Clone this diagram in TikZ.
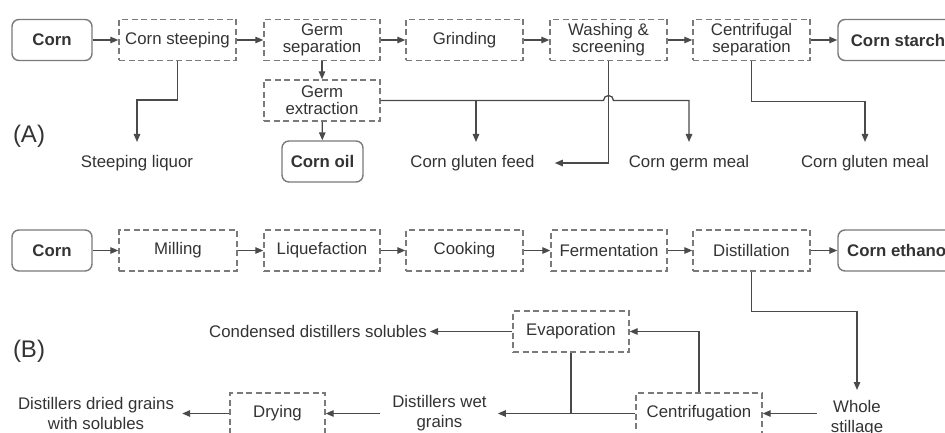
\documentclass[tikz,border=0pt]{standalone}
\usepackage{fontspec}
\setmainfont{Liberation Sans}
\usetikzlibrary{arrows.meta,calc}
\definecolor{txt}{HTML}{333333}
\definecolor{ln}{HTML}{4A4A4A}
\definecolor{bx}{HTML}{7A7A7A}
\begin{document}
\begin{tikzpicture}[x=1pt,y=-1pt,
  text=txt,
  proc/.style={draw=bx, line width=1.4pt, dash pattern=on 6pt off 3.5pt, minimum height=41pt, inner sep=0pt, align=center, font=\fontsize{16.8}{17}\selectfont},
  endb/.style={draw=bx, line width=1.4pt, rounded corners=7pt, minimum height=41pt, inner sep=0pt, font=\fontsize{16.8}{17}\selectfont\bfseries},
  lbl/.style={inner xsep=0pt, inner ysep=13pt, align=center, font=\fontsize{16.8}{20}\selectfont},
  lbltwo/.style={inner sep=0pt, align=center, font=\fontsize{16.8}{20}\selectfont},
  panel/.style={inner sep=0pt, font=\fontsize{24}{24}\selectfont},
  arr/.style={draw=ln, line width=1.3pt, -{Triangle[length=8pt,width=6.5pt]}},
  con/.style={draw=ln, line width=1.3pt}]
\useasboundingbox (0,0) rectangle (945,433);

% ---------- (A) ----------
\node[panel] (labA) at (29,136) {(A)};
\node[endb, minimum width=80pt] (cornA) at (52,40) {Corn};
\node[proc, minimum width=117pt] (steep) at (177.5,40) {Corn steeping};
\node[proc, minimum width=116pt] (gsep) at (322,40) {Germ\\separation};
\node[proc, minimum width=117pt] (grind) at (464.5,40) {Grinding};
\node[proc, minimum width=117pt] (wash) at (608.5,40) {Washing \&\\screening};
\node[proc, minimum width=117pt] (csep) at (751.5,40) {Centrifugal\\separation};
\node[endb, minimum width=120pt] (starch) at (898,40) {Corn starch};
\node[proc, minimum width=116pt] (gext) at (322,100.5) {Germ\\extraction};
\node[endb, minimum width=81pt] (oil) at (322.5,161.5) {Corn oil};

\node[lbl, anchor=north] (liquor) at (137,142) {Steeping liquor};
\node[lbl, anchor=north] (feed) at (472.5,142) {Corn gluten feed};
\node[lbl, anchor=north] (gmeal) at (689,142) {Corn germ meal};
\node[lbl, anchor=north] (glmeal) at (865,142) {Corn gluten meal};

\coordinate (kl) at (137,100);
\coordinate (kf) at (476,100.5);

\draw[arr] (cornA) -- (steep);
\draw[arr] (steep) -- (gsep);
\draw[arr] (gsep) -- (grind);
\draw[arr] (grind) -- (wash);
\draw[arr] (wash) -- (csep);
\draw[arr] (csep) -- (starch);
\draw[arr] (gsep) -- (gext);
\draw[arr] (gext) -- (oil);
\draw[arr] (steep.south) |- (kl) -- (liquor.north);
\draw[arr] (gext.east) -- ([xshift=-5pt]wash.south |- gext.east)
  arc[start angle=180, end angle=360, radius=5] -- (gext.east -| gmeal.north) -- (gmeal.north);
\draw[arr] (kf) -- (kf |- feed.north);
\draw[arr, shorten >=20pt] (wash.south) |- (feed.east);
\draw[arr] (csep.south) -- ++(0,40.5) -| (glmeal.north);

% ---------- (B) ----------
\node[panel] (labB) at (29,351) {(B)};
\node[endb, minimum width=80pt] (cornB) at (52,250.5) {Corn};
\node[proc, minimum width=118pt] (mill) at (178,250.5) {Milling};
\node[proc, minimum width=116pt] (liq) at (322,250.5) {Liquefaction};
\node[proc, minimum width=117pt] (cook) at (464.5,250.5) {Cooking};
\node[proc, minimum width=116pt] (ferm) at (609,250.5) {Fermentation};
\node[proc, minimum width=117pt] (dist) at (751.5,250.5) {Distillation};
\node[endb, minimum width=122pt] (eth) at (899,250.5) {Corn ethanol};

\node[proc, minimum width=116pt] (evap) at (571,331.5) {Evaporation};
\node[proc, minimum width=126pt] (cent) at (699,413.5) {Centrifugation};
\node[proc, minimum width=95pt] (dry) at (277.5,413.5) {Drying};

\node[lbltwo, anchor=east] (cond) at (427,331.5) {Condensed distillers solubles};
\node[lbltwo, anchor=north] (whole) at (857,400) {Whole\\stillage};
\node[lbltwo] (wet) at (439.5,413) {Distillers wet\\grains};
\node[lbltwo] (dried) at (96,413) {Distillers dried grains\\with solubles};

\draw[arr] (cornB) -- (mill);
\draw[arr] (mill) -- (liq);
\draw[arr] (liq) -- (cook);
\draw[arr] (cook) -- (ferm);
\draw[arr] (ferm) -- (dist);
\draw[arr] (dist) -- (eth);

\draw[arr, shorten >=10pt] (dist.south) -- ++(0,40) -| (whole.north);
\draw[arr, shorten <=14pt] (whole.west |- cent.east) -- (cent.east);
\draw[arr] (cent.north) |- (evap.east);
\draw[arr, shorten >=3pt] (evap.west) -- (evap.west -| cond.east);
\draw[con] (evap.south) -- (evap.south |- cent.west);
\draw[arr, shorten >=11pt] (cent.west) -- (wet.east |- cent.west);
\draw[arr, shorten <=12pt] (wet.west |- dry.east) -- (dry.east);
\draw[arr, shorten >=8pt] (dry.west) -- (dry.west -| dried.east);
\end{tikzpicture}
\end{document}
